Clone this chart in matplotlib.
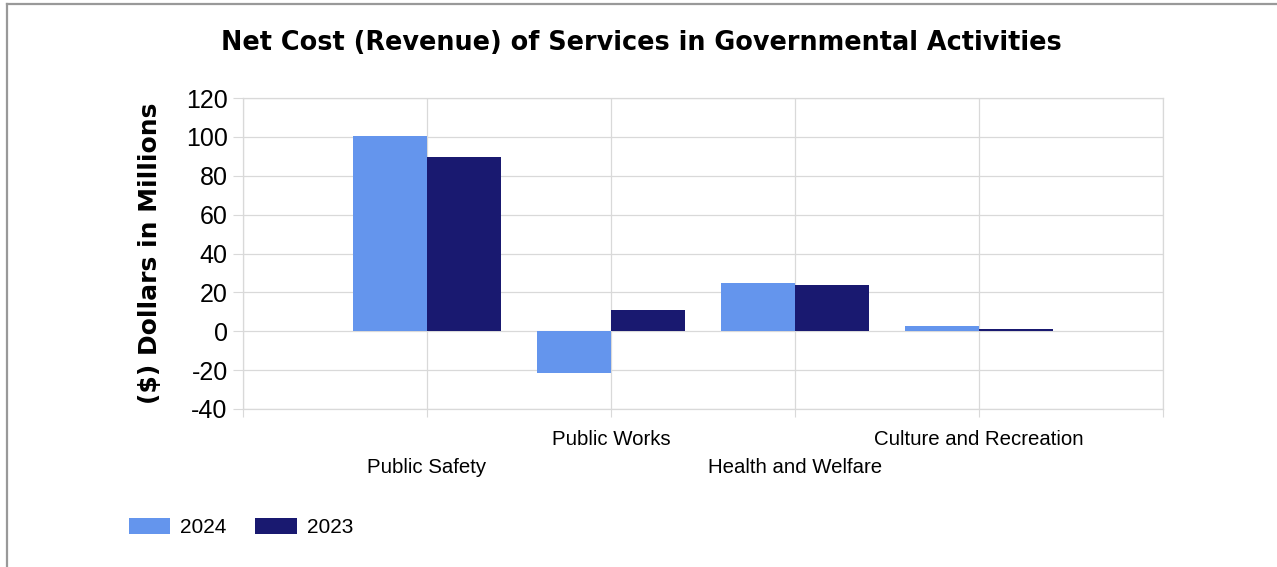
import matplotlib
matplotlib.use('Agg')
import matplotlib.pyplot as plt
from matplotlib.lines import Line2D
import numpy as np

plt.rcParams['font.family'] = ['Liberation Sans', 'DejaVu Sans']
plt.rcParams['axes.unicode_minus'] = False

# net cost (revenue) by function, $ millions
categories = ['Public Safety', 'Public Works', 'Health and Welfare', 'Culture and Recreation']
net_2024 = [100.3, -21.6, 24.9, 2.7]
net_2023 = [89.8, 11.0, 24.0, 1.0]
years = ['2024', '2023']
colors = ['#6495ED', '#191970']
grid_c = '#d9d9d9'

fig = plt.figure(figsize=(12.77, 5.67), dpi=100)
ax = fig.add_axes([243 / 1277, 1 - 409 / 567, 920 / 1277, 311 / 567])

x = np.arange(1, len(categories) + 1)
w = 0.4
ax.bar(x - w / 2, net_2024, w, color=colors[0], label=years[0], zorder=3)
ax.bar(x + w / 2, net_2023, w, color=colors[1], label=years[1], zorder=3)

ax.set_xlim(0, len(categories) + 1)
ax.set_ylim(-40, 120)
ax.set_yticks(range(-40, 121, 20))
ax.set_xticks(range(0, len(categories) + 2))
ax.set_xticklabels([''] + categories + [''], fontsize=14.7)
ax.tick_params(axis='y', labelsize=18, length=7, color=grid_c, pad=4)
ax.tick_params(axis='x', length=6, color=grid_c)
# alternate category labels on two rows
for i, t in enumerate(ax.xaxis.get_major_ticks()):
    t.set_pad(29.5 if i % 2 == 1 else 9)
ax.grid(True, color=grid_c, linewidth=0.9, zorder=0)
for s in ax.spines.values():
    s.set_color(grid_c)
    s.set_linewidth(0.9)

ax.set_ylabel('($) Dollars in Millions', fontsize=18, fontweight='bold',
              family=['DejaVu Sans'], labelpad=17)
fig.text(641 / 1277, 1 - 43 / 567, 'Net Cost (Revenue) of Services in Governmental Activities',
         ha='center', va='center', fontsize=18.4, fontweight='bold', family=['DejaVu Sans'])

fig.legend(loc='lower left', bbox_to_anchor=(110 / 1277, 1 - 556 / 567), ncol=2, frameon=False,
           fontsize=15, handlelength=2.0, handleheight=0.87, columnspacing=1.35, handletextpad=0.48)

# outer frame
fig.add_artist(Line2D([6.5 / 1277, 1], [1 - 3.5 / 567] * 2, color='#999999', lw=1.6))
fig.add_artist(Line2D([6.5 / 1277] * 2, [0, 1 - 3.5 / 567], color='#999999', lw=1.6))

fig.savefig('out.png', dpi=100)
